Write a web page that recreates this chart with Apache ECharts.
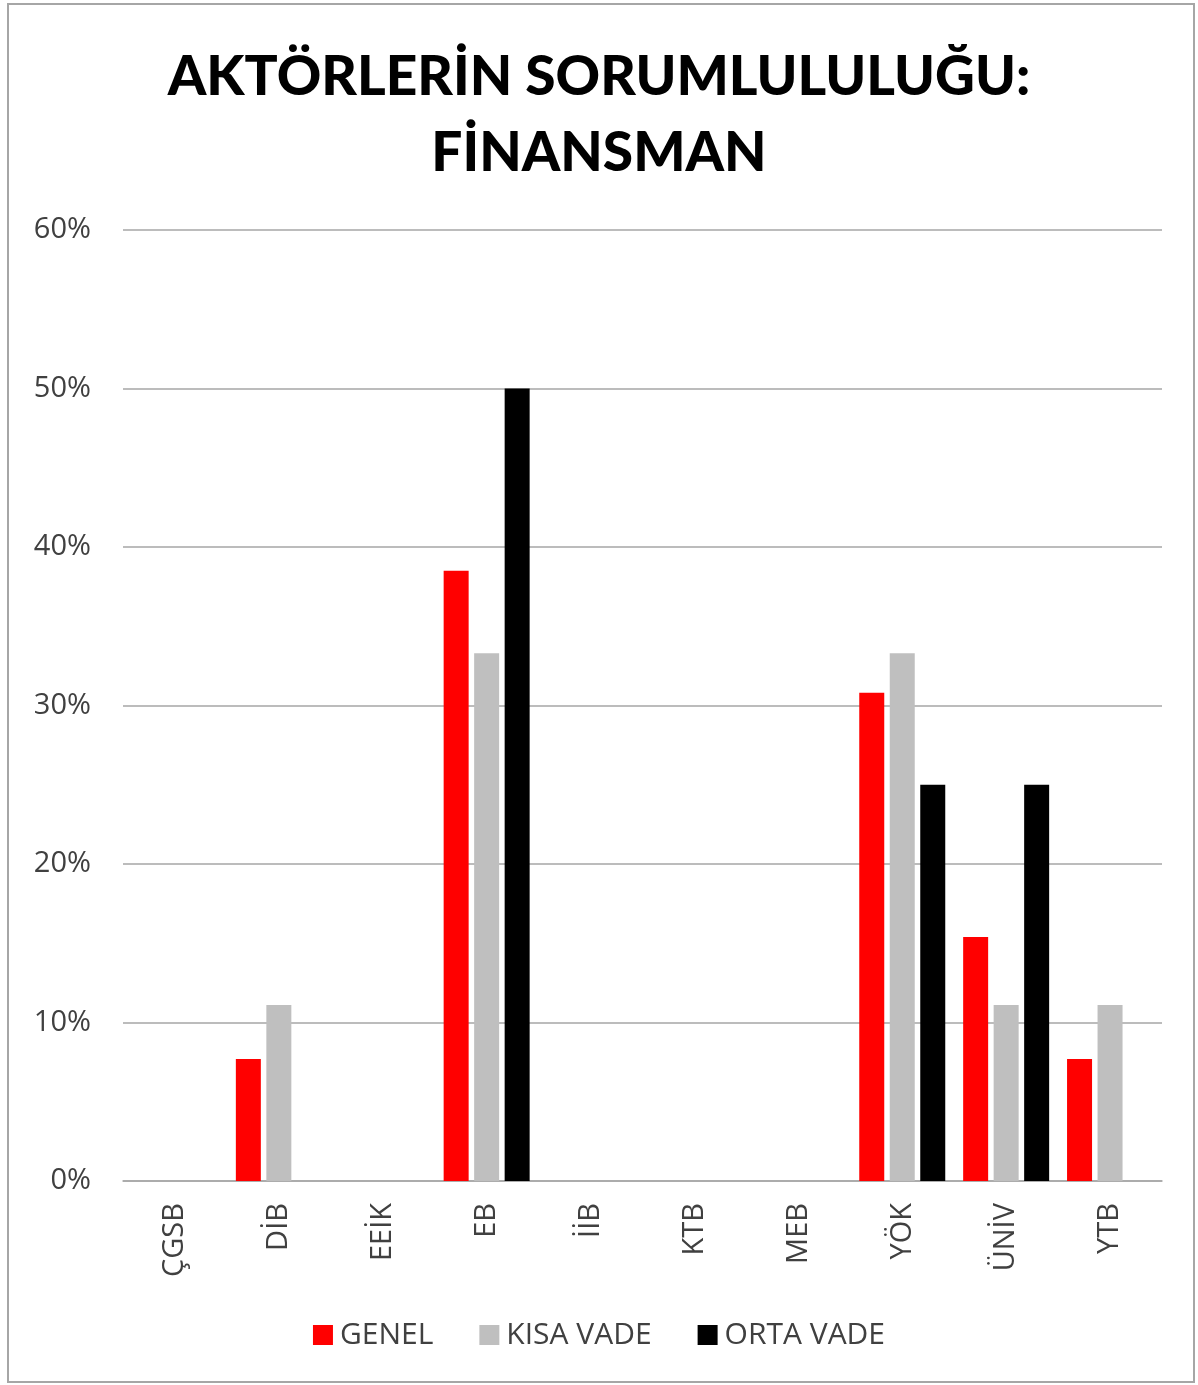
<!DOCTYPE html>
<html lang="tr">
<head>
    <meta charset="UTF-8">
    <title>Aktörlerin Sorumlululuğu: Finansman</title>
    <style>
        html,body{margin:0;padding:0;background:#fff;}
        #frame{position:absolute;left:7px;top:3px;width:1188px;height:1380px;border:2px solid #a6a6a6;box-sizing:border-box;}
        #chart{position:absolute;left:0;top:0;width:1198px;height:1385px;}
    </style>
</head>
<body>
    <div id="frame"></div>
    <div id="chart"></div>
    <script src="https://cdn.jsdelivr.net/npm/echarts@6/dist/echarts.min.js"></script>
    <script>
        let categories=['ÇGSB','DİB','EEİK','EB','İİB','KTB','MEB','YÖK','ÜNİV','YTB'];
        let genel=[0,7.7,0,38.5,0,0,0,30.8,15.4,7.7];
        let kisaVade=[0,11.1,0,33.3,0,0,0,33.3,11.1,11.1];
        let ortaVade=[0,0,0,50,0,0,0,25,25,0];
        let seriesNames=['GENEL','KISA VADE','ORTA VADE'];
        let colors=['#ff0000','#bfbfbf','#000000'];

        let myCharts=echarts.init(document.getElementById('chart'));
        let font='"Open Sans", sans-serif';

        function makeSeries(name,data,color){
            return {
                name,
                type:'bar',
                data,
                barWidth:25,
                barGap:'22%',
                itemStyle:{color},
            };
        }

        let options={
            animation:false,
            title:{
                text:'AKTÖRLERİN SORUMLULULUĞU:\nFİNANSMAN',
                left:'center',
                top:34,
                textStyle:{
                    fontFamily:'Lato, sans-serif',
                    fontWeight:900,
                    fontSize:55,
                    lineHeight:76,
                    color:'#000',
                },
            },
            legend:{
                bottom:30,
                left:'center',
                itemWidth:20,
                itemHeight:20,
                itemGap:46,
                icon:'rect',
                textStyle:{fontFamily:font,fontSize:30,color:'#404040',padding:[0,0,0,2]},
                data:seriesNames,
            },
            grid:{
                left:123,
                right:36,
                top:230,
                bottom:204,
                containLabel:false,
            },
            xAxis:{
                type:'category',
                data:categories,
                axisTick:{show:false},
                axisLine:{lineStyle:{color:'#a6a6a6',width:1.5}},
                axisLabel:{
                    rotate:90,
                    fontFamily:font,
                    fontSize:29,
                    color:'#404040',
                    margin:22,
                },
            },
            yAxis:{
                type:'value',
                min:0,
                max:60,
                interval:10,
                axisLine:{show:false},
                axisTick:{show:false},
                splitLine:{lineStyle:{color:'#a6a6a6',width:1.5}},
                axisLabel:{
                    formatter:'{value}%',
                    fontFamily:font,
                    fontSize:29,
                    color:'#404040',
                    margin:32,
                },
            },
            series:[
                makeSeries(seriesNames[0],genel,colors[0]),
                makeSeries(seriesNames[1],kisaVade,colors[1]),
                makeSeries(seriesNames[2],ortaVade,colors[2]),
            ],
        };
        myCharts.setOption(options);
    </script>
</body>
</html>
